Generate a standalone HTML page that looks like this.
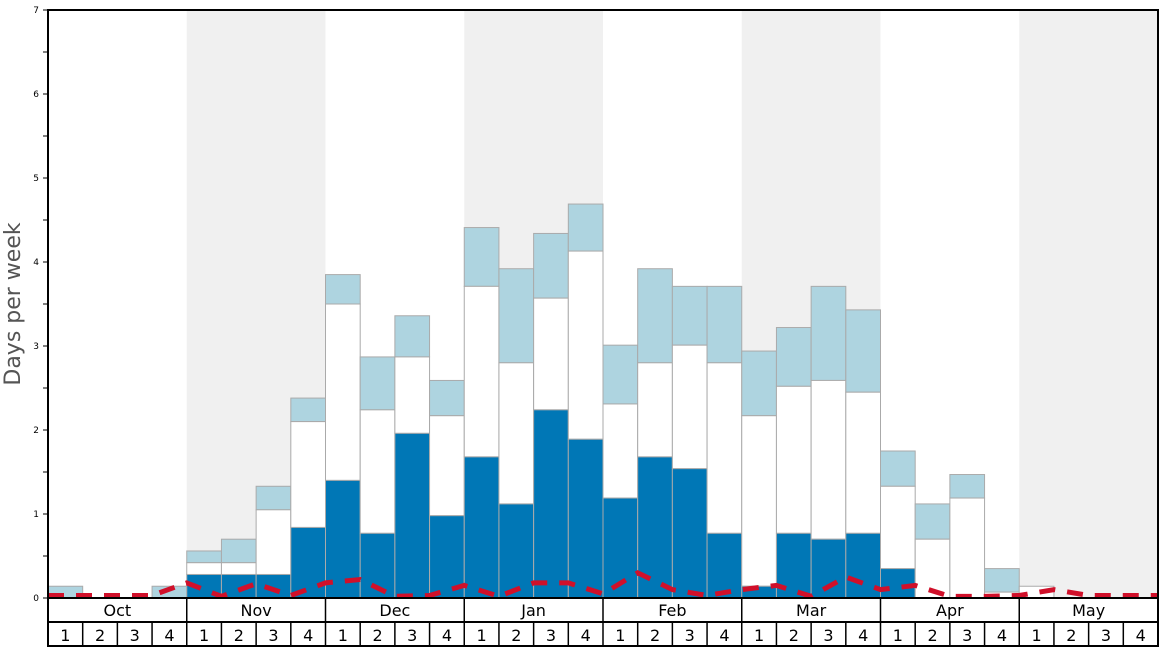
<!DOCTYPE html>
<html><head><meta charset="utf-8"><style>
html,body{margin:0;padding:0;background:#fff;}
svg{display:block;font-family:"DejaVu Sans","Liberation Sans",sans-serif;}
</style></head><body>
<svg id="s" width="1168" height="648" xmlns="http://www.w3.org/2000/svg"></svg>
<script>
const s=document.getElementById('s');
const X0=48,X1=1158,Y0=598,Y7=10,W=(X1-X0)/32,K=84;
const y=v=>Y0-K*v, x=i=>X0+W*i;
let h='';
// shaded months
[1,3,5,7].forEach(m=>{h+=`<rect x="${x(m*4)}" y="${Y7}" width="${W*4}" height="${Y0-Y7}" fill="#f0f0f0"/>`;});
// data: [dark, white top, lightblue top]
const d=[[0,0,0.14],[0,0,0],[0,0,0],[0,0,0.14],
[0.28,0.42,0.56],[0.28,0.42,0.70],[0.28,1.05,1.33],[0.84,2.1,2.38],
[1.4,3.5,3.85],[0.77,2.24,2.87],[1.96,2.87,3.36],[0.98,2.17,2.59],
[1.68,3.71,4.41],[1.12,2.8,3.92],[2.24,3.57,4.34],[1.89,4.13,4.69],
[1.19,2.31,3.01],[1.68,2.8,3.92],[1.54,3.01,3.71],[0.77,2.8,3.71],
[0.14,2.17,2.94],[0.77,2.52,3.22],[0.70,2.59,3.71],[0.77,2.45,3.43],
[0.35,1.33,1.75],[0,0.70,1.12],[0,1.19,1.47],[0,0.07,0.35],
[0,0.14,0.14],[0,0,0],[0,0,0],[0,0,0]];
const st='stroke="#aaa" stroke-width="1"';
d.forEach((v,i)=>{
 const [a,b,c]=v, xx=x(i);
 if(c>b) h+=`<rect x="${xx}" y="${y(c)}" width="${W}" height="${K*(c-b)}" fill="#aed4e0" ${st}/>`;
 if(b>a) h+=`<rect x="${xx}" y="${y(b)}" width="${W}" height="${K*(b-a)}" fill="#fff" ${st}/>`;
 if(a>0) h+=`<rect x="${xx}" y="${y(a)}" width="${W}" height="${K*a}" fill="#0077b6" ${st}/>`;
});
// red dashed line at week boundaries
const r=[0.03,0.03,0.03,0.03,0.18,0.02,0.17,0.03,0.18,0.22,0.02,0.03,0.15,0.02,0.18,0.18,0.05,0.3,0.1,0.03,0.1,0.15,0.02,0.25,0.1,0.15,0.02,0.02,0.03,0.1,0.03,0.03,0.03];
h+=`<polyline fill="none" stroke="#d0102a" stroke-width="5" stroke-dasharray="16,12" points="${r.map((v,i)=>x(i)+','+y(v)).join(' ')}"/>`;
// axes frame
h+=`<rect x="${X0}" y="${Y7}" width="${X1-X0}" height="${Y0-Y7}" fill="none" stroke="#000" stroke-width="2"/>`;
for(let k=0;k<=14;k++){const yy=y(k/2);h+=`<line x1="${X0-5}" x2="${X0}" y1="${yy}" y2="${yy}" stroke="#000" stroke-width="1"/>`;
 if(k%2==0)h+=`<text x="${X0-9}" y="${yy+3}" font-size="9" text-anchor="end" fill="#000">${k/2}</text>`;}
h+=`<text transform="translate(20,304) rotate(-90)" font-size="22" text-anchor="middle" fill="#555">Days per week</text>`;
// bottom table
h+=`<line x1="${X0}" x2="${X1}" y1="622" y2="622" stroke="#000" stroke-width="2"/>`;
h+=`<line x1="${X0}" x2="${X1}" y1="646" y2="646" stroke="#000" stroke-width="2"/>`;
h+=`<line x1="${X0}" x2="${X0}" y1="598" y2="647" stroke="#000" stroke-width="2"/>`;
h+=`<line x1="${X1}" x2="${X1}" y1="598" y2="647" stroke="#000" stroke-width="2"/>`;
const M=['Oct','Nov','Dec','Jan','Feb','Mar','Apr','May'];
M.forEach((m,j)=>{const xx=x(j*4);
 if(j>0)h+=`<line x1="${xx}" x2="${xx}" y1="598" y2="646" stroke="#000" stroke-width="1.5"/>`;
 h+=`<text x="${xx+W*2}" y="616" font-size="16" text-anchor="middle">${m}</text>`;
 for(let w=0;w<4;w++){const wx=x(j*4+w);
  if(w>0)h+=`<line x1="${wx}" x2="${wx}" y1="622" y2="646" stroke="#000" stroke-width="1.5"/>`;
  h+=`<text x="${wx+W/2}" y="641" font-size="16" text-anchor="middle">${w+1}</text>`;}
});
s.innerHTML=h;
</script>
</body></html>
